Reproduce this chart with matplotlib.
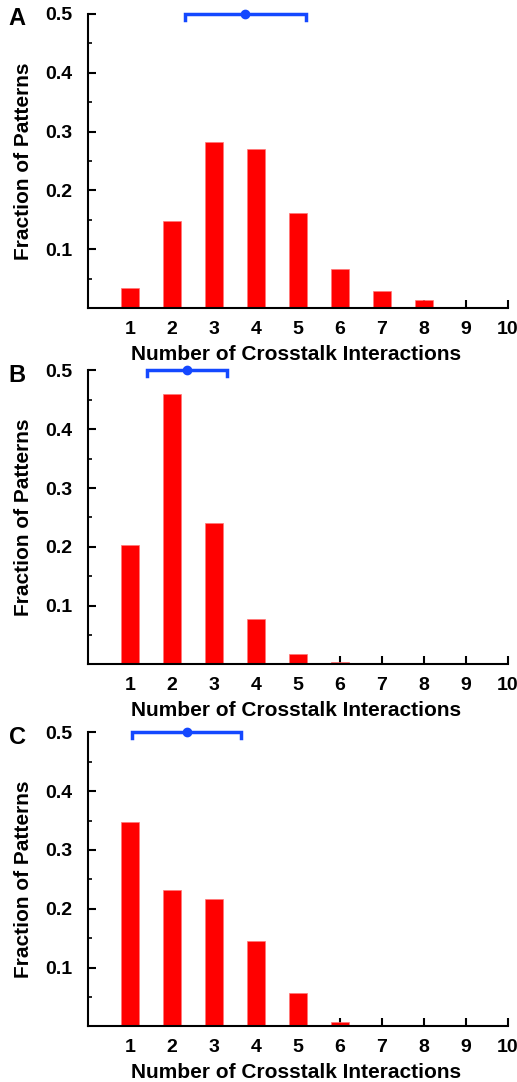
import numpy as np
import matplotlib
matplotlib.use('Agg')
import matplotlib.pyplot as plt

plt.rcParams['font.family'] = ['Liberation Sans', 'DejaVu Sans']
plt.rcParams['font.weight'] = 'bold'

interactions = [1, 2, 3, 4, 5, 6, 7, 8, 9, 10]

frac_a = [0.034, 0.148, 0.282, 0.270, 0.161, 0.067, 0.029, 0.014, 0.001, 0.0]
frac_b = [0.203, 0.460, 0.241, 0.078, 0.017, 0.004, 0.0, 0.0, 0.0, 0.0]
frac_c = [0.347, 0.232, 0.216, 0.145, 0.056, 0.008, 0.0, 0.0, 0.0, 0.0]

# bracket: low end, mean, high end
range_a = [2.31, 3.75, 5.19]
range_b = [1.40, 2.36, 3.30]
range_c = [1.05, 2.36, 3.65]

panels = ['A', 'B', 'C']
yticks = [0.1, 0.2, 0.3, 0.4, 0.5]
yminor = [0.05, 0.15, 0.25, 0.35, 0.45]

fig = plt.figure(figsize=(5.17, 10.82), dpi=100)
bottoms = [0.7153, 0.3859, 0.0514]

for letter, frac, rng, bot in zip(panels, [frac_a, frac_b, frac_c],
                                  [range_a, range_b, range_c], bottoms):
    ax = fig.add_axes([0.1702, bot, 0.8124, 0.2718])
    ax.bar(interactions, frac, width=0.42, color='#ff0000',
           edgecolor='#ff7777', linewidth=0.5, zorder=2)

    lo, mid, hi = rng
    ax.plot([lo, lo, hi, hi], [0.49, 0.5, 0.5, 0.49], color='#1448ff',
            lw=2.5, clip_on=False, solid_joinstyle='miter', zorder=3)
    ax.plot([mid], [0.5], 'o', color='#1448ff', ms=6, clip_on=False, zorder=4)

    ax.set_xlim(0, 10)
    ax.set_ylim(0, 0.5)
    ax.set_xticks(interactions)
    ax.set_yticks(yticks)
    ax.set_yticks(yminor, minor=True)
    ax.set_yticklabels([f'{t:.1f}' for t in yticks])

    for s in ['top', 'right']:
        ax.spines[s].set_visible(False)
    for s in ['left', 'bottom']:
        ax.spines[s].set_linewidth(1.5)

    ax.tick_params(axis='both', which='major', direction='in', length=6,
                   width=1.5, labelsize=14)
    ax.tick_params(axis='y', which='minor', direction='in', length=3, width=1.2)
    ax.tick_params(axis='y', which='major', pad=11)
    ax.tick_params(axis='x', which='major', pad=9)

    ax.set_xlabel('Number of Crosstalk Interactions', fontsize=15,
                  fontweight='bold')
    ax.xaxis.set_label_coords(0.495, -0.125)
    ax.set_ylabel('Fraction of Patterns', fontsize=15, fontweight='bold')
    ax.yaxis.set_label_coords(-0.13, 0.5)
    ax.text(-0.169, 0.983, letter, transform=ax.transAxes, fontsize=17,
            fontweight='bold', ha='center', va='center')

fig.savefig('out.png', dpi=100)
